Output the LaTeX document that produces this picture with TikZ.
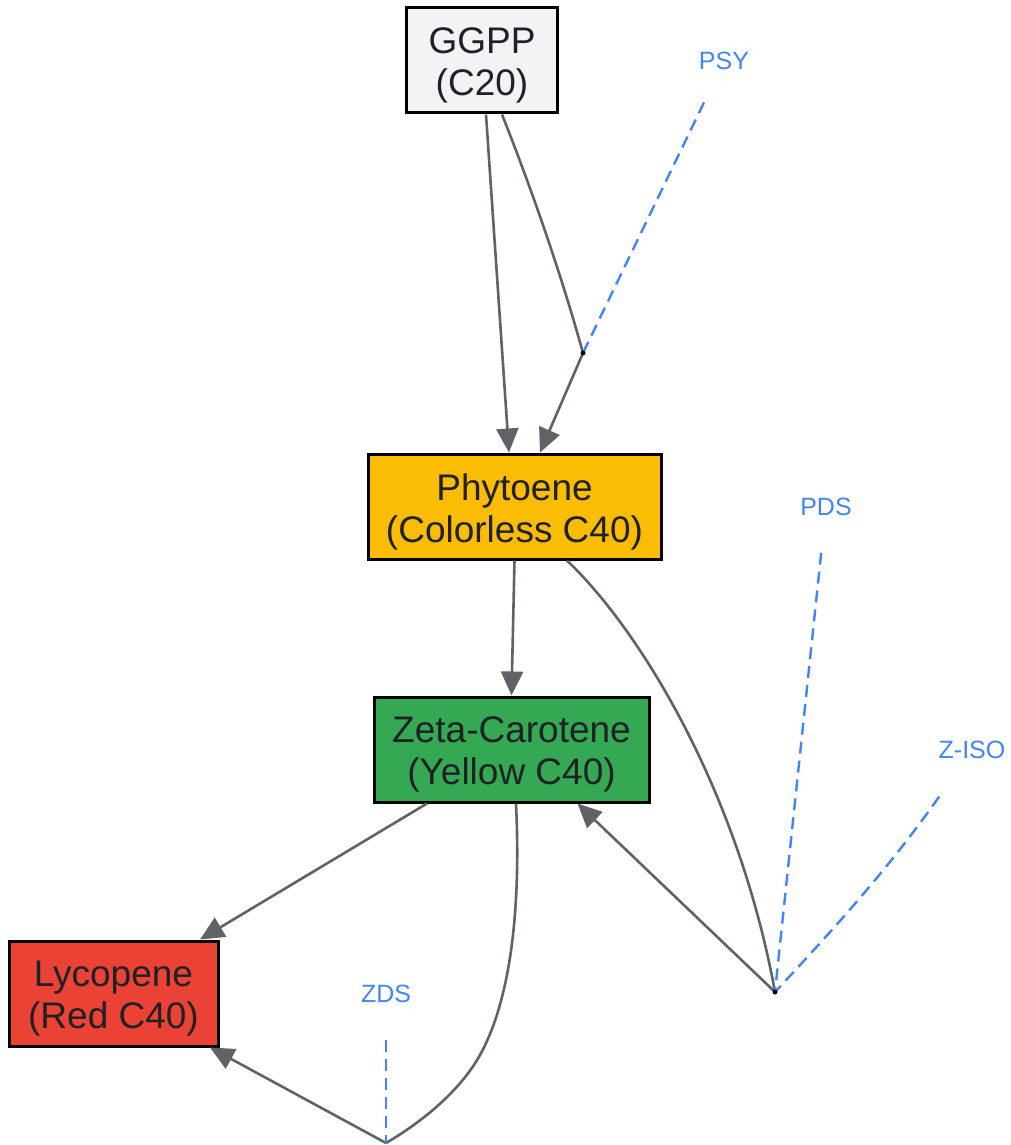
\documentclass[tikz,border=0pt]{standalone}
\usepackage{fontspec}
\setmainfont{Liberation Sans}
\usetikzlibrary{arrows.meta,calc}
\definecolor{edgegray}{HTML}{5F6368}
\definecolor{txt}{HTML}{202124}
\definecolor{gblue}{HTML}{4285F4}
\definecolor{ggray}{HTML}{F1F3F4}
\definecolor{gyellow}{HTML}{FBBC04}
\definecolor{ggreen}{HTML}{34A853}
\definecolor{gred}{HTML}{EA4335}
\tikzset{
  molbox/.style={draw=black, line width=3pt, minimum height=105pt, inner sep=0pt,
    align=center, text=txt, font=\fontsize{37}{42}\selectfont},
  molt/.style={align=center, text=txt, font=\fontsize{37}{42}\selectfont, inner sep=0pt},
  flow/.style={draw=edgegray, line width=2.6pt, -{Triangle[length=24pt,width=22pt]}},
  plain/.style={draw=edgegray, line width=2.6pt},
  enz/.style={text=gblue, font=\fontsize{25}{30}\selectfont, inner sep=0pt},
  enzline/.style={draw=gblue, line width=2.4pt, dash pattern=on 12pt off 7pt, shorten <=46pt},
  jdot/.style={circle, fill=black, inner sep=0pt, minimum size=5pt}
}
\begin{document}
\begin{tikzpicture}[x=1pt,y=-1pt]
\useasboundingbox (0,0) rectangle (1011,1145);
% nodes
\node[molbox, fill=ggray, minimum width=151pt] (ggpp) at (482,60.5) {};
\node[molbox, fill=gyellow, minimum width=293pt] (phy) at (514.5,506.5) {};
\node[molbox, fill=ggreen, minimum width=275pt] (zeta) at (511.5,749.5) {};
\node[molbox, fill=gred, minimum width=209pt] (lyc) at (113.5,993.5) {};
\node[molt] (ggppt) at ([yshift=-5pt]ggpp.center) {GGPP\\(C20)};
\node[molt] (phyt) at ([yshift=-5pt]phy.center) {Phytoene\\(Colorless C40)};
\node[molt] (zetat) at ([yshift=-5pt]zeta.center) {Zeta-Carotene\\(Yellow C40)};
\node[molt] (lyct) at ([yshift=-5pt]lyc.center) {Lycopene\\(Red C40)};
% enzyme labels
\node[enz] (psy) at (724,61) {PSY};
\node[enz] (pds) at (826,507) {PDS};
\node[enz] (ziso) at (972,750) {Z-ISO};
\node[enz] (zds) at (386,994) {ZDS};
% junctions
\coordinate (j1) at (583,353);
\coordinate (j2) at (775,992);
\coordinate (j3) at (386,1143);
% edges
\draw[flow] ([xshift=4pt]ggpp.south) -- ([xshift=-5.5pt]phy.north);
\draw[plain] ([xshift=20pt]ggpp.south) .. controls (530,185) and (560,270) .. (j1);
\draw[flow] (j1) -- ([xshift=25.5pt]phy.north);
\draw[enzline] (psy.center) -- (j1);

\draw[flow] (phy.south) -- (zeta.north);
\draw[plain] ([xshift=52.5pt]phy.south) .. controls (640,630) and (738,790) .. (j2);
\draw[flow] (j2) -- ([xshift=66pt]zeta.south);
\draw[enzline] (pds.center) -- (j2);
\draw[enzline, shorten <=57pt] (ziso.center) to[bend left=4] (j2);

\draw[flow] ([xshift=-84.5pt]zeta.south) -- ([xshift=86.5pt]lyc.north);
\draw[plain] ([xshift=4.5pt]zeta.south) .. controls (522,930) and (505,1010) .. (480,1055) .. controls (455,1100) and (405,1132) .. (j3);
\draw[flow] (j3) -- ([xshift=96.5pt]lyc.south);
\draw[enzline] (zds.center) -- (j3);
% junction dots
\node[jdot] at (j1) {};
\node[jdot] at (j2) {};
\end{tikzpicture}
\end{document}
